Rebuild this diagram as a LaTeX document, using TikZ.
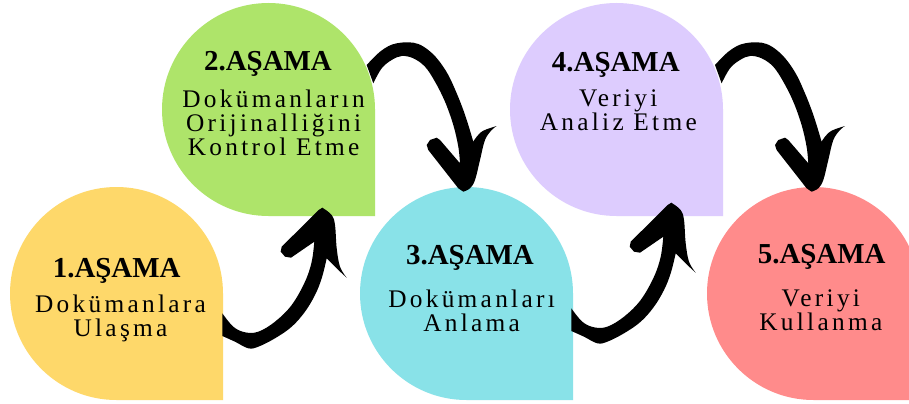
\documentclass[tikz,border=0pt]{standalone}
\usepackage{fontspec}
\setmainfont{Liberation Serif}
\newfontfamily\bodyfont[LetterSpace=13]{Liberation Serif}
\definecolor{cyellow}{HTML}{FED86A}
\definecolor{cgreen}{HTML}{AEE46A}
\definecolor{ccyan}{HTML}{89E2E8}
\definecolor{cpurple}{HTML}{DDCCFE}
\definecolor{cred}{HTML}{FF8B8B}
\tikzset{
  head/.style={anchor=base, inner sep=0pt, font=\bfseries\fontsize{21.7pt}{24pt}\selectfont},
  body/.style={anchor=base, inner sep=0pt, font=\bodyfont\fontsize{19pt}{20pt}\selectfont},
  brush/.style={fill=black}
}
\newcommand\dropshape[3]{% color, cx, cy
  \fill[#1] ({#2+106.5},#3) -- ({#2+106.5},{#3+106.5}) -- (#2,{#3+106.5})
    arc[start angle=90, end angle=360, radius=106.5] -- cycle;}
\newcommand\arrowhookup{%
  \fill[brush] (222.3,313.3) -- plot[smooth,tension=0.6] coordinates {(222.3,313.3) (233.3,326.7) (245,332.3) (258.3,331.7) (275,321.7) (291.7,305) (305,281.7) (311.7,261.7) (314.3,241.7)}
   -- (291,257.7) -- (285,256.7) -- (280.7,251.7) -- (281.7,246.7) -- (318.7,210) -- (322.3,207.7)
   -- plot[smooth,tension=0.6] coordinates {(322.3,207.7) (331.7,215) (335,225) (336.7,248.3) (340,266.7) (346.7,277.7)}
   -- plot[smooth,tension=0.6] coordinates {(346.7,277.7) (338.3,270) (330,261.7) (326.7,258.3)}
   -- plot[smooth,tension=0.6] coordinates {(326.7,258.3) (321.7,278.3) (315,295) (305,311.7) (291.7,326.7) (275,338.3) (258.3,346.7) (248.3,348.3) (235,341.7) (222.3,336)}
   -- cycle;}
\newcommand\arrowarcdown{%
  \fill[brush] (366.7,65) -- plot[smooth,tension=0.6] coordinates {(366.7,65) (373.3,58) (380,51.7) (388.3,46.2) (396.7,43.3) (408.3,42.3) (418.3,44) (428.3,50) (438.3,60) (448.3,75) (456.7,93.3) (463.3,110) (468.3,125) (473.3,141.7)}
   -- plot[smooth,tension=0.6] coordinates {(473.3,141.7) (476.7,136.7) (483.3,130.7) (496.7,126)}
   -- plot[smooth,tension=0.6] coordinates {(496.7,126) (491.7,130) (485,140) (480,160) (475,180) (470,188.3) (463.3,191.7)}
   -- (458.3,188.3) -- (428.3,150) -- (426.7,145) -- (430,140) -- (436.7,137.7) -- (440,140) -- (460,163.3)
   -- plot[smooth,tension=0.6] coordinates {(460,163.3) (458.3,146.7) (453.3,125) (445,101.7) (435,81.7) (425,66.7) (413.3,58.3) (401.7,56) (391.7,60) (381.7,68.3) (373.3,83.3)}
   -- cycle;}
\begin{document}
\begin{tikzpicture}[x=0.75pt,y=-0.75pt]
\useasboundingbox (0,0) rectangle (909,403);
\fill[white] (0,0) rectangle (909,403);
\begin{scope}
\clip (0,0) rectangle (909,403);
\dropshape{cyellow}{116.5}{293.5}
\dropshape{cgreen}{268.5}{109.5}
\dropshape{ccyan}{466.5}{293.5}
\dropshape{cpurple}{616.5}{109.5}
\dropshape{cred}{813.5}{293.5}
\end{scope}
% arrows
\arrowhookup
\arrowarcdown
\begin{scope}[shift={(349,-5)}]\arrowhookup\end{scope}
\begin{scope}[shift={(348.3,0)}]\arrowarcdown\end{scope}
% texts
\node[head] (h1) at (116.7,277) {1.AŞAMA};
\node[body] (b1a) at (120.5,312.7) {Dokümanlara};
\node[body] (b1b) at (120.5,336.7) {Ulaşma};
\node[head] (h2) at (268,70.7) {2.AŞAMA};
\node[body] (b2a) at (273.6,107.7) {Dokümanların};
\node[body] (b2b) at (273.6,131.7) {Orijinalliğini};
\node[body] (b2c) at (273.6,155.7) {Kontrol Etme};
\node[head] (h3) at (470,264) {3.AŞAMA};
\node[body] (b3a) at (471.6,307.3) {Dokümanları};
\node[body] (b3b) at (471.6,331.3) {Anlama};
\node[head] (h4) at (615.8,71) {4.AŞAMA};
\node[body] (b4a) at (618.3,106.7) {Veriyi};
\node[body] (b4b) at (618.3,130.7) {Analiz Etme};
\node[head] (h5) at (821.7,263.3) {5.AŞAMA};
\node[body] (b5a) at (820.8,306.7) {Veriyi};
\node[body] (b5b) at (820.8,330.7) {Kullanma};
\end{tikzpicture}
\end{document}
